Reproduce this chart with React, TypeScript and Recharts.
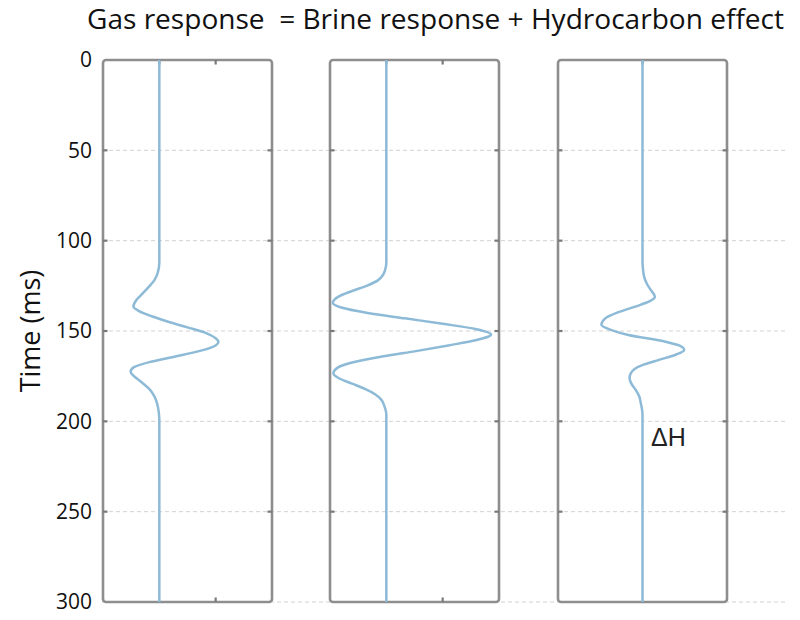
import React from 'react';
import { LineChart, Line, XAxis, YAxis, CartesianGrid, ReferenceArea, ReferenceLine } from 'recharts';

const gasTimes = [0, 112, 118, 122, 126, 130, 133, 136.5, 139, 142, 145, 148, 151, 154, 156, 158, 161, 164, 167, 170, 172.5, 175, 178, 182, 186, 190, 195, 200, 300];
const gasValues = [0, 0, -0.03, -0.09, -0.2, -0.32, -0.41, -0.46, -0.36, -0.12, 0.17, 0.5, 0.82, 1.0, 1.05, 1.0, 0.72, 0.3, -0.15, -0.45, -0.51, -0.45, -0.33, -0.18, -0.09, -0.04, -0.01, 0, 0];

const brineTimes = [0, 112, 116, 119, 122, 125, 128, 131, 134.5, 137, 140, 143, 146, 149, 152, 155, 158, 161, 164, 167, 170, 173.5, 176, 179, 182, 185, 188, 192, 196, 300];
const brineValues = [0, 0, -0.02, -0.06, -0.15, -0.35, -0.62, -0.85, -0.95, -0.8, -0.33, 0.33, 1.0, 1.6, 1.86, 1.6, 1.1, 0.55, -0.05, -0.55, -0.85, -0.94, -0.85, -0.62, -0.38, -0.2, -0.09, -0.03, 0, 0];

const hcTimes = [0, 112, 116, 120, 124, 127, 131, 133.5, 136.5, 140, 143, 146.6, 149.5, 152.2, 155.9, 158, 160.5, 163, 166, 168.5, 171, 173.5, 176, 179, 182.6, 186, 190, 196, 300];
const hcValues = [0, 0, 0.01, 0.03, 0.08, 0.14, 0.22, 0.13, -0.13, -0.46, -0.66, -0.73, -0.55, -0.25, 0.41, 0.65, 0.74, 0.6, 0.29, 0.03, -0.14, -0.21, -0.23, -0.2, -0.12, -0.06, -0.03, 0, 0];

const timeTicks = [0, 50, 100, 150, 200, 250, 300];
const innerTimeTicks = [50, 100, 150, 200, 250];
const titleText = 'Gas response  = Brine response + Hydrocarbon effect';
const yLabel = 'Time (ms)';
const deltaLabel = 'ΔH';

const panels = [
  { times: gasTimes, values: gasValues, left: 103, domain: [-1, 2], topTicks: [0, 1], bottomTicks: [1] },
  { times: brineTimes, values: brineValues, left: 330, domain: [-1, 2], topTicks: [0, 1], bottomTicks: [1] },
  { times: hcTimes, values: hcValues, left: 558, domain: [-1.5, 1.5], topTicks: [0], bottomTicks: [] as number[] },
];

const FRAME = '#8e8e8e';
const TICK = '#7a7a7a';
const LINE = '#8dbad7';
const PW = 169;
const PAD = 5;
const TICK_X = 0.08;
const TICK_T = 2.5;

function Panel({ p }: { p: typeof panels[number] }) {
  const rows = p.times.map((t, i) => ({ t, v: p.values[i] }));
  const [lo, hi] = p.domain;
  return (
    <div style={{ position: 'absolute', left: p.left - PAD, top: 0 }}>
      <LineChart
        width={PW + PAD * 2}
        height={620}
        data={rows}
        layout="vertical"
        margin={{ top: 60, bottom: 18, left: PAD, right: PAD }}
      >
        <XAxis type="number" domain={p.domain} hide allowDataOverflow />
        <YAxis type="number" dataKey="t" domain={[0, 300]} hide />
        <ReferenceArea x1={lo} x2={hi} y1={0} y2={300}
          fill="none" fillOpacity={0} stroke={FRAME} strokeWidth={2.6} radius={3} ifOverflow="visible" />
        {innerTimeTicks.map((t) => (
          <ReferenceLine key={'l' + t} segment={[{ x: lo, y: t }, { x: lo + TICK_X, y: t }]}
            stroke={TICK} strokeWidth={2.2} ifOverflow="visible" />
        ))}
        {innerTimeTicks.map((t) => (
          <ReferenceLine key={'r' + t} segment={[{ x: hi - TICK_X, y: t }, { x: hi, y: t }]}
            stroke={TICK} strokeWidth={2.2} ifOverflow="visible" />
        ))}
        {p.topTicks.map((x) => (
          <ReferenceLine key={'t' + x} segment={[{ x, y: 0 }, { x, y: TICK_T }]}
            stroke={TICK} strokeWidth={2.2} ifOverflow="visible" />
        ))}
        {p.bottomTicks.map((x) => (
          <ReferenceLine key={'b' + x} segment={[{ x, y: 300 - TICK_T }, { x, y: 300 }]}
            stroke={TICK} strokeWidth={2.2} ifOverflow="visible" />
        ))}
        <Line dataKey="v" type="monotoneY" stroke={LINE} strokeWidth={2.5}
          dot={false} activeDot={false} isAnimationActive={false} />
      </LineChart>
    </div>
  );
}

export default function App() {
  const bgRows = timeTicks.map((t) => ({ t }));
  return (
    <div style={{ position: 'absolute', left: 0, top: 0, width: 800, height: 620, background: '#fff' }}>
      <div style={{ position: 'absolute', left: 0, top: 0 }}>
        <LineChart width={800} height={620} data={bgRows} margin={{ top: 60, right: 12, bottom: 18, left: 0 }}>
          <CartesianGrid vertical={false} horizontalValues={[50, 100, 150, 200, 250, 300]}
            stroke="#d2d2d2" strokeDasharray="4 3" />
          <XAxis hide />
          <YAxis type="number" dataKey="t" domain={[0, 300]} reversed ticks={timeTicks} width={102}
            axisLine={false} tickLine={false} tickSize={0} tickMargin={10} interval={0}
            tick={{ fill: '#111', fontSize: 21, fontFamily: 'Open Sans' }}
            label={{ value: yLabel, angle: -90, position: 'center', dx: -21, fill: '#111', fontSize: 27, fontFamily: 'Open Sans' }} />
        </LineChart>
      </div>
      {panels.map((p, i) => (
        <Panel key={i} p={p} />
      ))}
      <svg width={800} height={620} style={{ position: 'absolute', left: 0, top: 0, pointerEvents: 'none' }}>
        <text x={87} y={29} fontFamily="Open Sans" fontSize={27} fill="#111" textLength={697}
          lengthAdjust="spacingAndGlyphs" style={{ whiteSpace: 'pre' }}>{titleText}</text>
        <text x={651} y={446} fontFamily="Liberation Sans" fontSize={25} fill="#222">{deltaLabel}</text>
      </svg>
    </div>
  );
}
